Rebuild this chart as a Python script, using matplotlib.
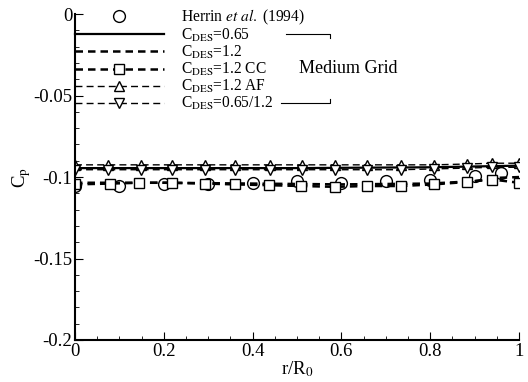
import matplotlib
matplotlib.use("Agg")
import matplotlib.pyplot as plt
from matplotlib.ticker import MultipleLocator

plt.rcParams["font.family"] = ["Liberation Serif", "DejaVu Serif"]
plt.rcParams["mathtext.fontset"] = "stix"

# Datos
x_exp = [0, 0.1, 0.2, 0.3, 0.4, 0.5, 0.6, 0.7, 0.8, 0.9, 0.96]
cp_exp = [-0.1055, -0.1055, -0.1045, -0.104, -0.1035, -0.1025, -0.1035, -0.1025, -0.1015, -0.0995, -0.0975]

x_065 = [0, 0.5, 0.8, 0.9, 1.0]
cp_065 = [-0.0945, -0.0945, -0.094, -0.0935, -0.093]

x_12 = [0, 0.2, 0.4, 0.6, 0.8, 0.9, 0.95, 1.0]
cp_12 = [-0.1035, -0.1035, -0.104, -0.1045, -0.104, -0.1025, -0.1005, -0.1]

x_cc = [0, 0.079, 0.145, 0.218, 0.293, 0.36, 0.437, 0.51, 0.586, 0.658, 0.734, 0.808, 0.883, 0.94, 1.0]
cp_cc = [-0.1045, -0.104, -0.1035, -0.1035, -0.104, -0.1045, -0.105, -0.1055, -0.106,
         -0.1055, -0.1055, -0.1045, -0.103, -0.1015, -0.1035]

x_tri = [0, 0.074, 0.149, 0.218, 0.293, 0.36, 0.44, 0.511, 0.586, 0.658, 0.734, 0.808, 0.883, 0.94, 1.0]
cp_af = [-0.0925, -0.0925, -0.0925, -0.0925, -0.0925, -0.0925, -0.0925, -0.0925, -0.0925,
         -0.0925, -0.0925, -0.0925, -0.092, -0.0915, -0.0915]
cp_mix = [-0.0955, -0.0955, -0.0955, -0.0955, -0.0955, -0.0955, -0.0955, -0.0955, -0.0955,
          -0.0955, -0.0955, -0.095, -0.0945, -0.094, -0.094]

fig = plt.figure(figsize=(5.28, 3.82), dpi=100)
ax = fig.add_axes([0.142, 0.110, 0.841, 0.853])

ax.plot(x_exp, cp_exp, "o", color="k", mfc="white", ms=8.5, mew=1.0,
        label="Herrin $\\it{et\\ al.}$ (1994)")
ax.plot(x_065, cp_065, "-", color="k", lw=1.6, label=r"C$_{\rm DES}$=0.65")
ax.plot(x_12, cp_12, "--", color="k", lw=1.8, dashes=(3, 2), label=r"C$_{\rm DES}$=1.2")
ax.plot(x_cc, cp_cc, "--", color="k", lw=1.8, dashes=(3, 2), marker="s",
        mfc="white", ms=7, mew=1.0, label=r"C$_{\rm DES}$=1.2 CC")
ax.plot(x_tri, cp_af, "--", color="k", lw=1.0, dashes=(5, 3), marker="^",
        mfc="white", ms=7, mew=1.0, label=r"C$_{\rm DES}$=1.2 AF")
ax.plot(x_tri, cp_mix, "--", color="k", lw=1.0, dashes=(5, 3), marker="v",
        mfc="white", ms=7, mew=1.0, label=r"C$_{\rm DES}$=0.65/1.2")

# Corchete "Medium Grid"
ax.plot([0.475, 0.574, 0.574], [-0.0123, -0.0123, -0.0148], color="k", lw=0.8)
ax.plot([0.465, 0.574, 0.574], [-0.0546, -0.0546, -0.0521], color="k", lw=0.8)
ax.text(0.505, -0.0335, "Medium Grid", fontsize=13, va="center", ha="left")

ax.set_xlim(0, 1)
ax.set_ylim(-0.2, 0)
ax.xaxis.set_minor_locator(MultipleLocator(0.05))
ax.yaxis.set_minor_locator(MultipleLocator(0.01))
ax.set_xticks([0, 0.2, 0.4, 0.6, 0.8, 1.0])
ax.set_xticklabels(["0", "0.2", "0.4", "0.6", "0.8", "1"])
ax.set_yticks([0, -0.05, -0.1, -0.15, -0.2])
ax.set_yticklabels(["0", "-0.05", "-0.1", "-0.15", "-0.2"])
ax.tick_params(which="both", direction="in", labelsize=13.5, pad=2)
ax.tick_params(which="major", length=6)
ax.tick_params(which="minor", length=3)
for s in ["top", "right"]:
    ax.spines[s].set_visible(False)
for s in ["left", "bottom"]:
    ax.spines[s].set_linewidth(1.5)

ax.set_xlabel(r"r/R$_0$", fontsize=13.5, labelpad=0)
ax.set_ylabel(r"C$_{\rm p}$", fontsize=13.5, labelpad=0)

ax.legend(loc="upper left", bbox_to_anchor=(0.0, 1.02), frameon=False, fontsize=11.2,
          handlelength=5.7, handletextpad=1.1, labelspacing=0.0, borderaxespad=0,
          borderpad=0)

fig.savefig("out.png", dpi=100)
